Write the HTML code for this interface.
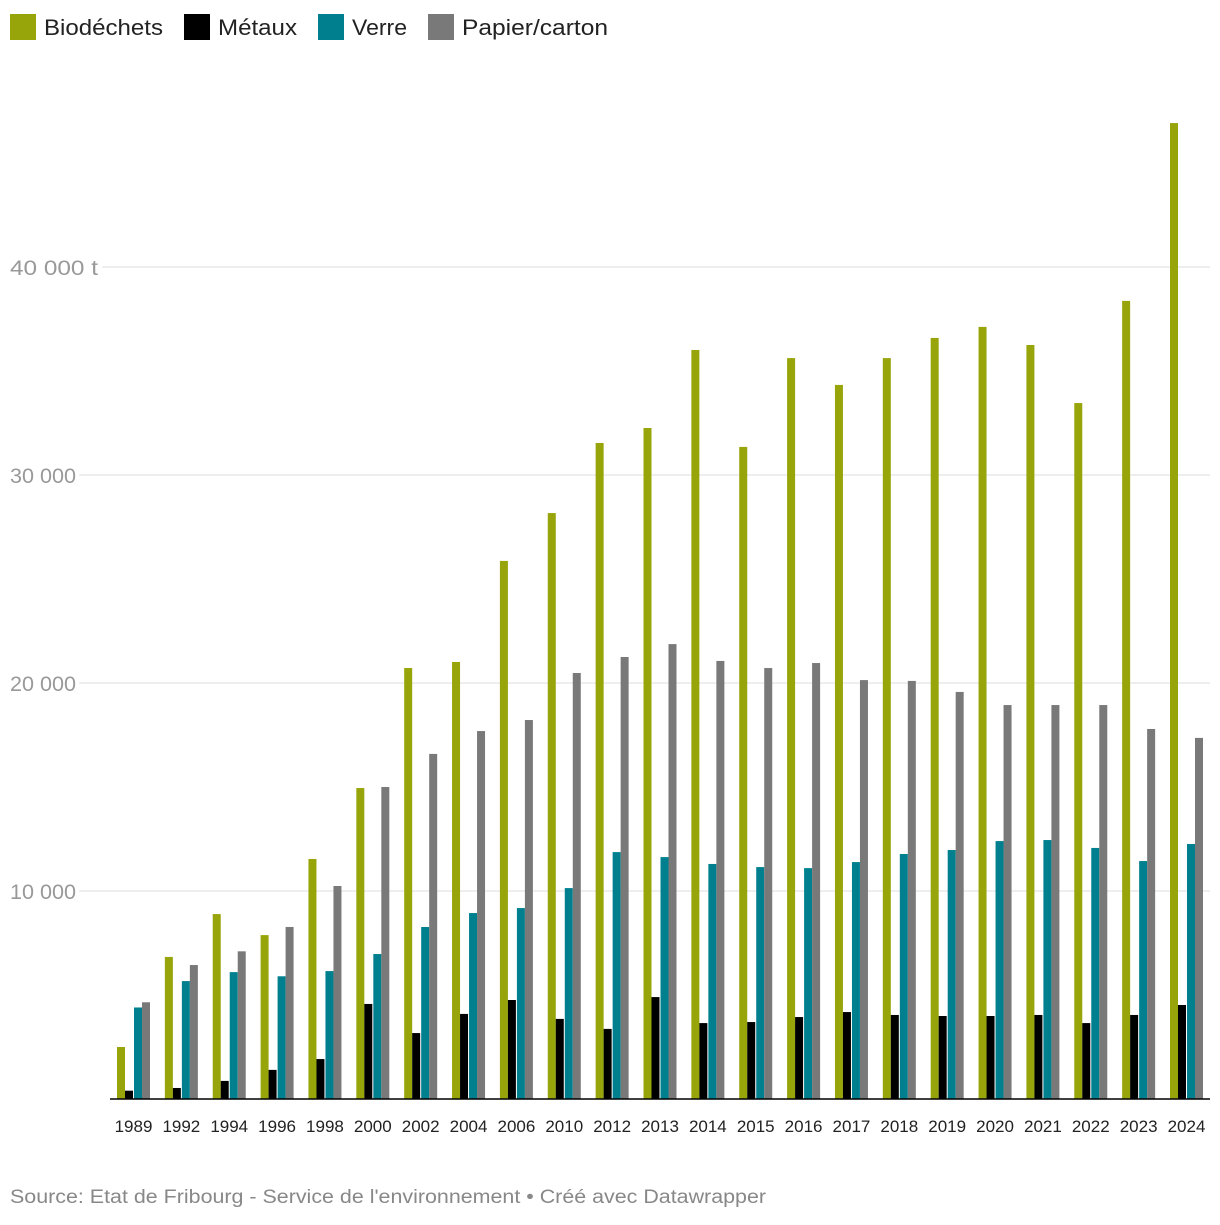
<!DOCTYPE html>
<html><head><meta charset="utf-8"><style>
body{margin:0;background:#fff;font-family:"Liberation Sans",sans-serif}
</style></head><body>
<svg id="chart" width="1220" height="1220" xmlns="http://www.w3.org/2000/svg">
<g font-size="22" fill="#222">
<g><rect x="10" y="14" width="26" height="26" fill="#98a50a"/><text x="44" y="35" textLength="119" lengthAdjust="spacingAndGlyphs">Biodéchets</text></g>
<g><rect x="184" y="14" width="26" height="26" fill="#000"/><text x="218" y="35" textLength="79" lengthAdjust="spacingAndGlyphs">Métaux</text></g>
<g><rect x="318" y="14" width="26" height="26" fill="#00808f"/><text x="352" y="35" textLength="55" lengthAdjust="spacingAndGlyphs">Verre</text></g>
<g><rect x="428" y="14" width="26" height="26" fill="#797979"/><text x="462" y="35" textLength="146" lengthAdjust="spacingAndGlyphs">Papier/carton</text></g>
</g>
<g id="grid"></g><g id="bars"></g><g id="xlabels"></g>
<line x1="110" y1="1099" x2="1210" y2="1099" stroke="#000" stroke-width="1.5"/>
<text x="10" y="1203" font-size="19" fill="#888" textLength="756" lengthAdjust="spacingAndGlyphs">Source: Etat de Fribourg - Service de l'environnement • Créé avec Datawrapper</text>
</svg>
<script>
const years=["1989","1992","1994","1996","1998","2000","2002","2004","2006","2010","2012","2013","2014","2015","2016","2017","2018","2019","2020","2021","2022","2023","2024"];
const biodechets=[2500,6830,8890,7880,11540,14950,20720,21010,25870,28170,31540,32260,36010,31350,35620,34330,35620,36590,37120,36250,33460,38370,46920];
const metaux=[400,530,870,1400,1920,4570,3170,4090,4760,3850,3370,4900,3650,3700,3940,4180,4040,3990,3990,4040,3650,4040,4520];
const verre=[4400,5670,6100,5900,6150,6970,8270,8940,9180,10140,11870,11630,11300,11150,11100,11390,11780,11970,12400,12450,12070,11440,12260];
const papier=[4650,6440,7100,8270,10240,15000,16590,17690,18220,20480,21250,21870,21060,20720,20960,20140,20100,19570,18940,18940,18940,17790,17360];
const yTicks=[10000,20000,30000,40000];
const yTickLabels=["10 000","20 000","30 000","40 000 t"];
const NS="http://www.w3.org/2000/svg";
const y=v=>1099-v*0.0208;
const x=i=>133.5+i*(1053/22);
const grid=document.getElementById('grid');
yTicks.forEach((t,k)=>{
 const l=document.createElementNS(NS,'line');
 l.setAttribute('x1',10);l.setAttribute('x2',1210);l.setAttribute('y1',y(t));l.setAttribute('y2',y(t));
 l.setAttribute('stroke','#ddd');
 
 
 grid.appendChild(l);
 const tx=document.createElementNS(NS,'text');
 tx.setAttribute('x',10);tx.setAttribute('y',y(t)+8);tx.setAttribute('font-size','21');tx.setAttribute('fill','#999');
 tx.setAttribute('paint-order','stroke');tx.setAttribute('stroke','#fff');tx.setAttribute('stroke-width','8');
 tx.setAttribute('textLength',yTickLabels[k].length*11);tx.setAttribute('lengthAdjust','spacingAndGlyphs');
 tx.textContent=yTickLabels[k];
 
 
 grid.appendChild(tx);
});
const series=[[biodechets,'#98a50a',-16.5,'biodechets'],[metaux,'#000',-8.5,'metaux'],[verre,'#00808f',0.5,'verre'],[papier,'#797979',8.5,'papier']];
const bars=document.getElementById('bars');
years.forEach((yr,i)=>{
 series.forEach(s=>{
  const r=document.createElementNS(NS,'rect');
  const v=s[0][i];
  r.setAttribute('x',x(i)+s[2]);r.setAttribute('width',8);
  r.setAttribute('y',y(v));r.setAttribute('height',1099-y(v));r.setAttribute('fill',s[1]);
  
  
  bars.appendChild(r);
 });
 const t=document.createElementNS(NS,'text');
 t.setAttribute('x',x(i));t.setAttribute('y',1132);t.setAttribute('text-anchor','middle');
 t.setAttribute('font-size','17');t.setAttribute('fill','#222');
 t.textContent=yr;
 
 
 document.getElementById('xlabels').appendChild(t);
});
</script>
</body></html>
